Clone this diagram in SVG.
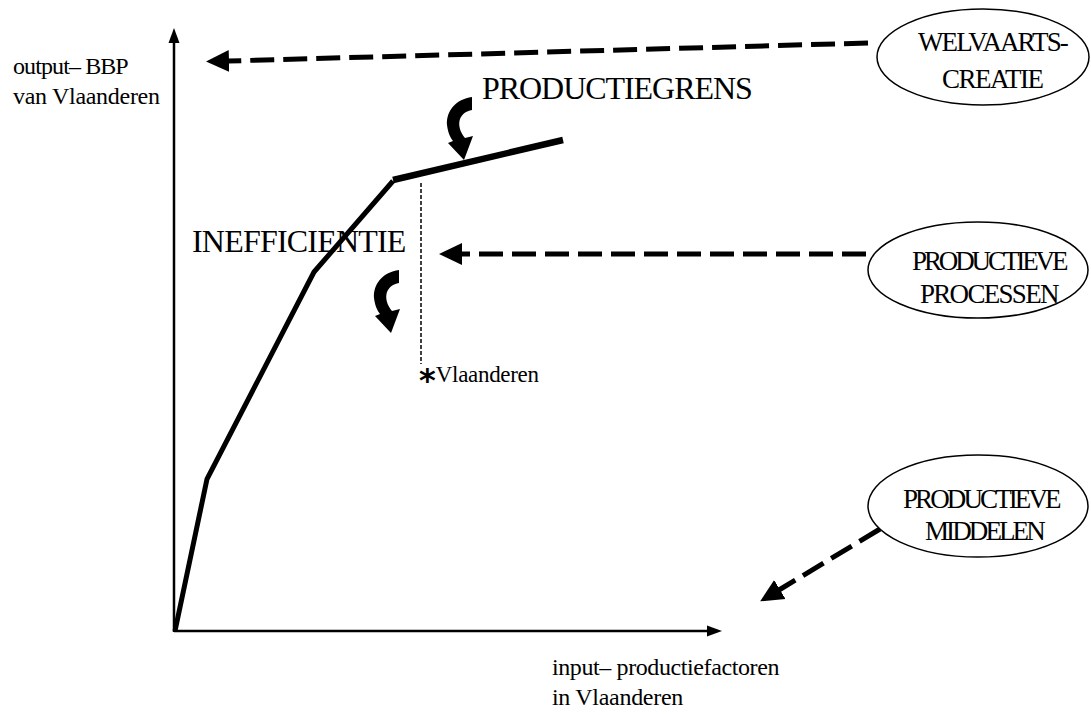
<svg xmlns="http://www.w3.org/2000/svg" width="1091" height="715" viewBox="0 0 1091 715">
<style>
  .t { font-family: "Liberation Serif", "Times New Roman", serif; fill: #000; }
  .axis { stroke: #000; stroke-width: 2.5; fill: none; }
  .curve { stroke: #000; stroke-width: 5; fill: none; stroke-linejoin: miter; }
  .dash { stroke: #000; stroke-width: 5; fill: none; stroke-dasharray: 24 9; }
  .ell { fill: #fff; stroke: #000; stroke-width: 1.5; }
</style>
<defs>
  <marker id="bigHead" markerUnits="userSpaceOnUse" markerWidth="24" markerHeight="24" viewBox="0 0 24 24" refX="1" refY="12" orient="auto">
    <path d="M0,1 L23,12 L0,23 z" fill="#000"/>
  </marker>
  <marker id="axisHead" markerUnits="userSpaceOnUse" markerWidth="16" markerHeight="12" viewBox="0 0 16 12" refX="1" refY="6" orient="auto">
    <path d="M0,0.5 L15,6 L0,11.5 z" fill="#000"/>
  </marker>
  <path id="curlArrow" d="M26 0 C10 2, 0 14, 1 28 C2 36, 4 40, 7 44 L2 46 L18 63 L27 39 L19 41 C14 35, 12 28, 14 22 C16 17, 20 14, 26 13 Z" fill="#000"/>
</defs>

<g id="axes">
  <line class="axis" x1="174" y1="632" x2="174" y2="42" marker-end="url(#axisHead)"/>
  <line class="axis" x1="174" y1="631" x2="708" y2="631" marker-end="url(#axisHead)"/>
</g>

<g id="curve">
  <polyline class="curve" points="175,631 207,479 314,272 393,181"/>
  <line x1="393" y1="180" x2="563" y2="140" stroke="#000" stroke-width="6.5"/>
  <line x1="421" y1="183" x2="421" y2="364" stroke="#000" stroke-width="1.5" stroke-dasharray="4 2"/>
</g>

<g id="connectors">
  <line class="dash" x1="868" y1="43" x2="228" y2="61" marker-end="url(#bigHead)"/>
  <line class="dash" x1="866" y1="254" x2="461" y2="254" marker-end="url(#bigHead)"/>
  <line class="dash" x1="880" y1="529" x2="779" y2="590" marker-end="url(#bigHead)"/>
</g>

<g id="curl-productiegrens"><use href="#curlArrow" transform="translate(446,97)"/></g>
<g id="curl-inefficientie"><use href="#curlArrow" transform="translate(373,270)"/></g>

<g id="node-welvaartscreatie">
  <ellipse class="ell" cx="983" cy="57" rx="106" ry="48"/>
  <text class="t" x="918" y="51" font-size="27" letter-spacing="-1.9">WELVAARTS-</text>
  <text class="t" x="942" y="88" font-size="27" letter-spacing="-1.5">CREATIE</text>
</g>

<g id="node-productieve-processen">
  <ellipse class="ell" cx="978" cy="270" rx="110" ry="48"/>
  <text class="t" x="912" y="270" font-size="27" letter-spacing="-3.1">PRODUCTIEVE</text>
  <text class="t" x="920" y="303" font-size="27" letter-spacing="-1.7">PROCESSEN</text>
</g>

<g id="node-productieve-middelen">
  <ellipse class="ell" cx="978" cy="506" rx="110" ry="51"/>
  <text class="t" x="903" y="508" font-size="27" letter-spacing="-2.9">PRODUCTIEVE</text>
  <text class="t" x="925" y="540" font-size="27" letter-spacing="-2.9">MIDDELEN</text>
</g>

<g id="labels">
  <text class="t" x="13" y="74" font-size="24" letter-spacing="-0.9">output– BBP</text>
  <text class="t" x="13" y="104" font-size="24" letter-spacing="-0.3">van Vlaanderen</text>
  <text class="t" x="482" y="99" font-size="32" letter-spacing="-1.05">PRODUCTIEGRENS</text>
  <text class="t" x="192" y="252" font-size="32" letter-spacing="-0.8">INEFFICIENTIE</text>
  <text class="t" x="419" y="382" font-size="23" letter-spacing="-0.3"><tspan font-family="DejaVu Sans" font-weight="bold" font-size="32" dy="9" letter-spacing="0">*</tspan><tspan dy="-9">Vlaanderen</tspan></text>
  <text class="t" x="552" y="675" font-size="24" letter-spacing="-0.4">input– productiefactoren</text>
  <text class="t" x="552" y="705" font-size="24" letter-spacing="-0.3">in Vlaanderen</text>
</g>
</svg>
